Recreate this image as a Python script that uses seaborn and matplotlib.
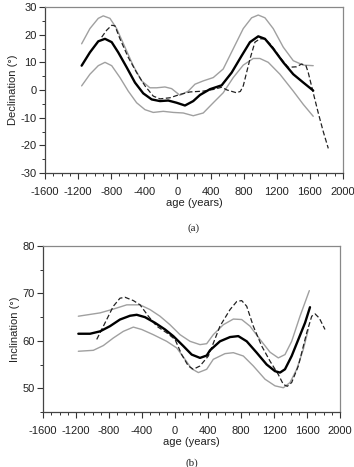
import matplotlib
matplotlib.use("Agg")
import matplotlib.pyplot as plt
import seaborn as sns
from matplotlib.ticker import MultipleLocator

sns.set_style("ticks")
plt.rcParams['font.family'] = ['Liberation Sans', 'DejaVu Sans']

# ---- Panel (a): Declination ----
dec_mean_age = [-1157, -1057, -956, -875, -794, -715, -613, -513, -413, -311, -211, -111, -10, 91, 191, 272, 393, 534, 655, 776, 876, 976, 1057, 1157, 1278, 1399, 1520, 1640]
dec_mean_val = [8.8, 13.6, 17.6, 18.5, 17.3, 13.6, 8.2, 2.7, -1.2, -3.4, -4.0, -3.8, -4.6, -5.6, -4.0, -1.8, 0.3, 1.7, 6.3, 12.4, 17.3, 19.4, 18.5, 14.9, 10.0, 5.7, 2.7, -0.2]

dec_up_age = [-1157, -1057, -956, -896, -815, -734, -634, -534, -432, -332, -251, -151, -70, 30, 131, 212, 312, 433, 553, 674, 795, 896, 976, 1057, 1157, 1278, 1399, 1520, 1640]
dec_up_val = [16.7, 22.2, 25.9, 26.8, 25.9, 22.2, 15.5, 8.8, 3.3, 0.8, 0.8, 1.1, 0.5, -1.9, -0.4, 2.1, 3.3, 4.5, 7.6, 14.9, 22.2, 26.1, 27.1, 26.1, 22.2, 15.5, 10.6, 9.0, 8.8]

dec_lo_age = [-1157, -1057, -956, -875, -794, -694, -594, -493, -392, -292, -171, -50, 70, 191, 312, 433, 553, 674, 795, 916, 996, 1097, 1238, 1399, 1520, 1640]
dec_lo_val = [1.5, 5.7, 8.8, 10.0, 8.8, 4.5, -0.4, -4.6, -7.1, -8.1, -7.7, -8.1, -8.3, -9.3, -8.3, -4.6, -1.0, 4.5, 9.0, 11.4, 11.4, 10.0, 5.7, -0.4, -5.2, -9.5]

dec_obs_age = [-915, -855, -794, -755, -694, -594, -493, -392, -292, -211, -90, 30, 151, 312, 433, 534, 600, 714, 760, 795, 876, 936, 996, 1057, 1137, 1238, 1338, 1439, 1500, 1552, 1580, 1640, 1701, 1761, 1822]
dec_obs_val = [19.1, 21.6, 23.4, 23.2, 18.5, 11.8, 6.3, 1.5, -2.2, -3.2, -2.8, -1.6, -0.7, -0.4, 0.2, 1.0, 0.0, -1.0, -0.5, 1.5, 11.2, 17.3, 18.5, 18.5, 16.1, 11.8, 8.2, 8.4, 9.4, 8.8, 6.3, -1.0, -8.3, -15.0, -21.1]

# ---- Panel (b): Inclination ----
inc_mean_age = [-1172, -1030, -909, -788, -667, -545, -464, -364, -242, -121, -21, 101, 202, 303, 384, 424, 545, 667, 767, 869, 990, 1111, 1212, 1273, 1333, 1414, 1495, 1576, 1636]
inc_mean_val = [61.5, 61.5, 62.0, 63.1, 64.5, 65.3, 65.5, 65.0, 63.8, 62.4, 61.0, 58.9, 57.1, 56.4, 56.9, 58.0, 59.9, 60.8, 61.0, 59.9, 57.5, 55.0, 53.6, 53.3, 54.0, 56.8, 60.3, 63.8, 67.1]

inc_up_age = [-1172, -909, -748, -585, -424, -303, -182, -61, 61, 182, 303, 384, 464, 585, 707, 808, 909, 1030, 1152, 1252, 1333, 1414, 1515, 1628]
inc_up_val = [65.2, 65.9, 66.7, 67.6, 67.6, 66.6, 65.2, 63.4, 61.3, 59.9, 59.2, 59.4, 61.3, 63.4, 64.6, 64.5, 63.1, 60.3, 57.6, 56.4, 57.1, 59.9, 65.2, 70.6]

inc_lo_age = [-1172, -990, -869, -748, -627, -505, -404, -263, -101, 21, 121, 202, 283, 384, 464, 606, 707, 828, 949, 1091, 1212, 1313, 1394, 1475, 1555, 1616]
inc_lo_val = [57.8, 58.0, 59.0, 60.6, 62.0, 62.9, 62.4, 61.3, 59.9, 58.5, 56.1, 54.1, 53.3, 54.0, 56.1, 57.3, 57.5, 56.8, 54.7, 51.9, 50.5, 50.1, 51.2, 54.0, 58.2, 62.4]

inc_obs_age = [-949, -848, -748, -667, -606, -505, -424, -323, -222, -101, 0, 81, 161, 222, 303, 404, 545, 667, 748, 808, 869, 949, 1051, 1152, 1252, 1313, 1361, 1414, 1495, 1596, 1657, 1697, 1749, 1818]
inc_obs_val = [60.3, 63.8, 67.3, 69.0, 69.2, 68.5, 67.6, 65.2, 63.1, 61.7, 60.3, 57.1, 54.7, 54.0, 54.7, 56.8, 63.1, 66.6, 68.3, 68.5, 67.3, 63.1, 58.9, 55.7, 52.9, 50.8, 50.4, 51.2, 54.7, 61.7, 65.2, 65.7, 64.8, 62.4]

x_ticks = [-1600, -1200, -800, -400, 0, 400, 800, 1200, 1600, 2000]

fig = plt.figure(figsize=(3.54, 4.67), dpi=100)
ax1 = fig.add_axes([0.127, 0.6295, 0.842, 0.3555])
ax2 = fig.add_axes([0.1215, 0.118, 0.839, 0.355])

GRAY = "#a0a0a0"
FS = 8

def draw(ax, up, lo, mean, obs, ylim, yticks, ylabel, caption, cap_y):
    for (a, v) in (up, lo):
        sns.lineplot(x=a, y=v, ax=ax, color=GRAY, lw=1.0, sort=False)
    sns.lineplot(x=obs[0], y=obs[1], ax=ax, color="#222222", lw=0.9, sort=False, linestyle=(0, (4, 2)))
    sns.lineplot(x=mean[0], y=mean[1], ax=ax, color="black", lw=1.7, sort=False)
    for ln in ax.get_lines():
        ln.set_solid_joinstyle("round")
        ln.set_dash_joinstyle("round")
    ax.set_xlim(-1600, 2000)
    ax.set_ylim(*ylim)
    ax.set_xticks(x_ticks)
    ax.set_xticklabels([str(t) for t in x_ticks])
    ax.set_yticks(yticks)
    ax.set_yticklabels([str(t) for t in yticks])
    ax.xaxis.set_minor_locator(MultipleLocator(100))
    ax.yaxis.set_minor_locator(MultipleLocator(5))
    ax.tick_params(which="major", direction="out", length=4, width=0.8, labelsize=FS, colors="#333333", pad=2)
    ax.tick_params(axis="x", which="major", pad=6)
    ax.tick_params(which="minor", direction="out", length=2.5, width=0.7, colors="#333333")
    ax.tick_params(labelcolor="#222222")
    for s in ("left", "bottom"):
        ax.spines[s].set_color("#444444")
        ax.spines[s].set_linewidth(0.9)
    for s in ("top", "right"):
        ax.spines[s].set_visible(True)
        ax.spines[s].set_color("#888888")
        ax.spines[s].set_linewidth(0.9)
    ax.set_xlabel("age (years)", fontsize=FS, labelpad=1, color="#222222")
    ax.set_ylabel(ylabel, fontsize=FS, labelpad=2, color="#222222")
    ax.text(0.5, cap_y, caption, transform=ax.transAxes,
            ha="center", va="center", fontsize=FS, family=["Liberation Serif", "DejaVu Serif"])

draw(ax1, (dec_up_age, dec_up_val), (dec_lo_age, dec_lo_val), (dec_mean_age, dec_mean_val),
     (dec_obs_age, dec_obs_val), (-30, 30), [-30, -20, -10, 0, 10, 20, 30], "Declination (°)", "(a)", -0.33)
draw(ax2, (inc_up_age, inc_up_val), (inc_lo_age, inc_lo_val), (inc_mean_age, inc_mean_val),
     (inc_obs_age, inc_obs_val), (45, 80), [50, 60, 70, 80], "Inclination (°)", "(b)", -0.31)

fig.savefig("out.png", dpi=100)
